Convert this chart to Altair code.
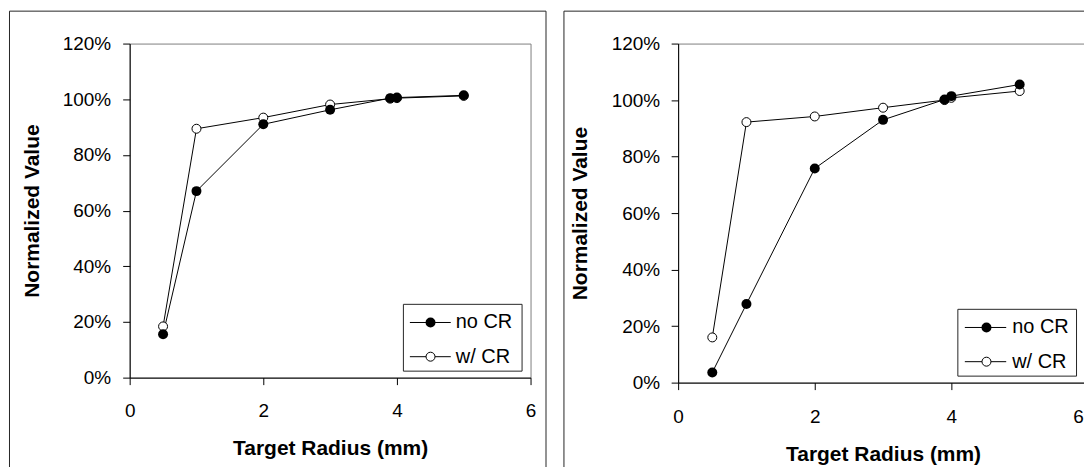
import altair as alt
import pandas as pd

# ---- data ----
radius = [0.5, 1, 2, 3, 3.9, 4, 5]
left_no_cr = [0.156, 0.670, 0.910, 0.962, 1.004, 1.006, 1.014]
left_w_cr = [0.184, 0.894, 0.934, 0.981, 1.002, 1.004, 1.012]
right_no_cr = [0.036, 0.278, 0.758, 0.930, 1.002, 1.014, 1.055]
right_w_cr = [0.160, 0.922, 0.942, 0.973, 1.000, 1.008, 1.032]
series_names = ["no CR", "w/ CR"]
x_ticks = [0, 2, 4, 6]
y_ticks = [0, 0.2, 0.4, 0.6, 0.8, 1.0, 1.2]
x_title = "Target Radius (mm)"
y_title = "Normalized Value"

FONT = "Liberation Sans"
FRAME = "#262626"
one = pd.DataFrame({"k": [0]})


def vrule(x, y1, y2, color=FRAME):
    return alt.Chart(one).mark_rule(color=color, strokeWidth=1).encode(
        x=alt.value(x), y=alt.value(y1), y2=alt.value(y2))


def hrule(x1, x2, y, color=FRAME):
    return alt.Chart(one).mark_rule(color=color, strokeWidth=1).encode(
        x=alt.value(x1), x2=alt.value(x2), y=alt.value(y))


def panel(no_cr, w_cr, W, H, g):
    n = len(radius)
    df = pd.DataFrame({
        "radius": radius + radius,
        "value": no_cr + w_cr,
        "series": [series_names[0]] * n + [series_names[1]] * n,
    })
    x_axis_kw = dict(values=x_ticks, title=x_title, labelFlush=False,
                     labelPadding=g["xlp"], titlePadding=g["xtp"])
    if g.get("last_label_shift"):
        x_axis_kw["labelOffset"] = {
            "condition": {"test": "datum.value === 6", "value": g["last_label_shift"]},
            "value": 0,
        }
    x = alt.X("radius:Q", scale=alt.Scale(domain=[0, 6], nice=False, zero=False),
              axis=alt.Axis(**x_axis_kw))
    y = alt.Y("value:Q", scale=alt.Scale(domain=[0, 1.2], nice=False),
              axis=alt.Axis(values=y_ticks, format=".0%", title=y_title,
                            labelPadding=g["ylp"], titlePadding=g["ytp"]))
    base = alt.Chart(df).encode(x=x, y=y)
    lines = base.mark_line(color="black", strokeWidth=1).encode(detail="series:N")
    open_pts = base.transform_filter(alt.datum.series == series_names[1]).mark_circle(
        fill="white", stroke="black", strokeWidth=1, size=81, opacity=1)
    fill_pts = base.transform_filter(alt.datum.series == series_names[0]).mark_circle(
        color="black", size=100, opacity=1)

    layers = [lines, open_pts, fill_pts]

    # outer frame
    fl, ft, fr, fb = g["frame"]
    layers.append(hrule(fl, fr, ft))
    layers.append(vrule(fl, ft, fb))
    if g["frame_right"]:
        layers.append(vrule(fr, ft, fb))

    # legend
    bx1, bx2, by1, by2 = g["box"]
    layers.append(alt.Chart(one).mark_rect(fill="white", stroke=FRAME, strokeWidth=1).encode(
        x=alt.value(bx1), x2=alt.value(bx2), y=alt.value(by1), y2=alt.value(by2)))
    lx1, lx2, mx, tx = g["leg_x"]
    for i, name in enumerate(series_names):
        ly = g["leg_y"][i]
        layers.append(hrule(lx1, lx2, ly, "black"))
        if i == 0:
            mk = alt.Chart(one).mark_circle(color="black", size=100, opacity=1)
        else:
            mk = alt.Chart(one).mark_circle(fill="white", stroke="black", strokeWidth=1,
                                            size=81, opacity=1)
        layers.append(mk.encode(x=alt.value(mx), y=alt.value(ly)))
        layers.append(alt.Chart(pd.DataFrame({"label": [name]})).mark_text(
            align="left", baseline="middle", font=FONT, fontSize=20, color="black").encode(
            x=alt.value(tx), y=alt.value(ly), text="label:N"))

    return alt.layer(*layers).properties(width=W, height=H)


left = panel(left_no_cr, left_w_cr, 402, 335, {
    "xlp": 16.5, "xtp": 17.5, "ylp": 12, "ytp": 20,
    "frame": (-120.5, -32.5, 417.5, 440), "frame_right": True,
    "box": (274.5, 393.5, 261.5, 328.5),
    "leg_x": (281, 322, 301.7, 327), "leg_y": (279.7, 314),
})

right = panel(right_no_cr, right_w_cr, 411, 340, {
    "xlp": 18, "xtp": 17, "ylp": 11.5, "ytp": 21,
    "frame": (-114.5, -32.5, 441, 435), "frame_right": False,
    "box": (280.5, 399.5, 266.5, 333.5),
    "leg_x": (287.5, 329, 309.2, 335), "leg_y": (284.7, 319),
    "last_label_shift": -10,
})

chart = alt.hconcat(left, right, spacing=15).properties(
    padding={"left": 0, "top": 1, "right": -35, "bottom": 0}
).configure_view(
    stroke="#808080", strokeWidth=1
).configure_axis(
    grid=False, domainColor="black", tickColor="black", tickSize=7,
    labelFont=FONT, labelFontSize=19, labelColor="black",
    titleFont=FONT, titleFontSize=21, titleFontWeight="bold", titleColor="black",
)

chart.save("out.html", embed_options={"renderer": "svg", "actions": False})
